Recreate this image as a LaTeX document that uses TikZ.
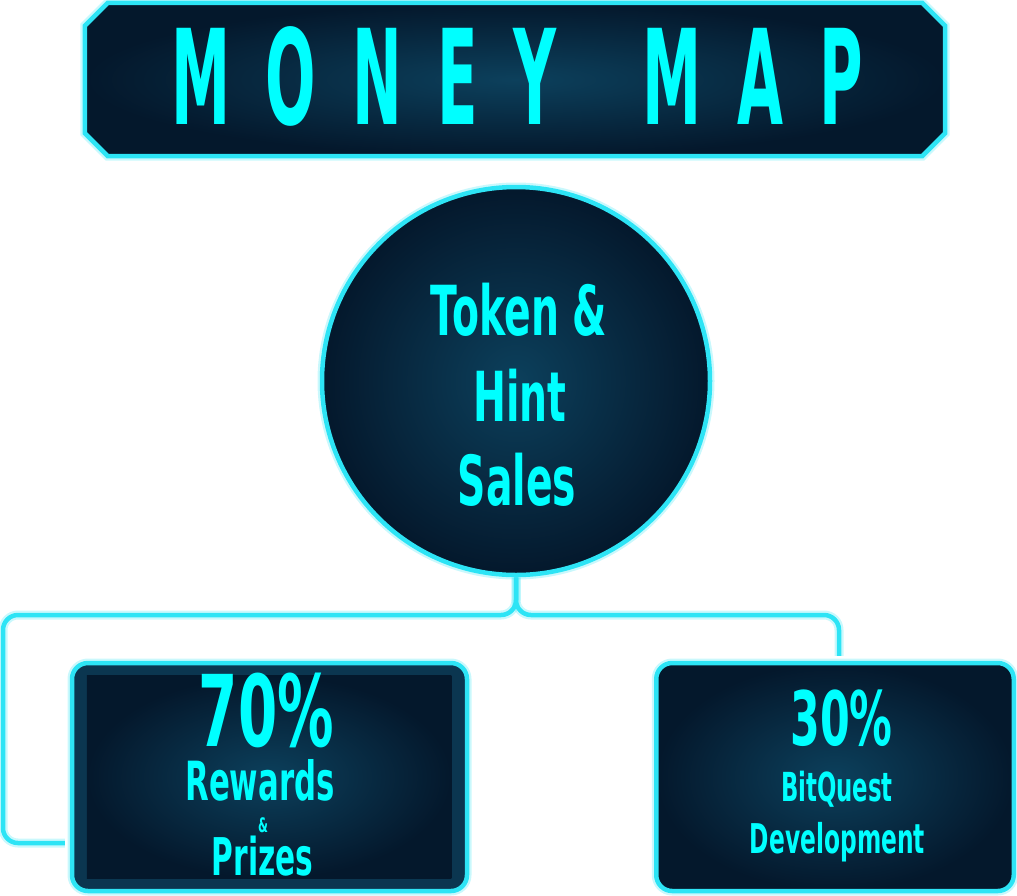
\documentclass[tikz,border=0pt]{standalone}
\usepackage{fontspec}
\newfontfamily\titlefont[FakeStretch=0.45,LetterSpace=27]{DejaVu Sans}
\newfontfamily\condfont[FakeStretch=0.57]{DejaVu Sans}
\definecolor{neon}{RGB}{0,255,255}
\definecolor{rim}{RGB}{45,228,245}
\definecolor{deep}{RGB}{4,24,44}
\definecolor{mid}{RGB}{12,64,92}
\definecolor{band}{RGB}{11,54,80}
\begin{document}
\begin{tikzpicture}[x=1pt,y=-1pt,
  glow/.style={preaction={draw=rim,line width=9pt,opacity=0.25}},
  rimline/.style={draw=rim,line width=4.5pt},
  wire/.style={draw=rim,line width=4.5pt,rounded corners=15pt,glow},
  txt/.style={text=neon,inner sep=0pt,anchor=base,text depth=0pt},
  big/.style={txt,font=\condfont\bfseries\fontsize{#1}{#1}\selectfont}]
\useasboundingbox (0,0) rectangle (1017,895);

% title frame
\node[minimum width=860pt,minimum height=153pt,inner sep=0pt] (title) at (515,79.5) {};
\shadedraw[rimline,glow,inner color=mid,outer color=deep]
  ([xshift=23pt]title.north west) -- ([xshift=-23pt]title.north east)
  -- ([yshift=-23pt]title.north east) -- ([yshift=23pt]title.south east)
  -- ([xshift=-23pt]title.south east) -- ([xshift=23pt]title.south west)
  -- ([yshift=23pt]title.south west) -- ([yshift=-23pt]title.north west) -- cycle;
\node[txt,font=\titlefont\bfseries\fontsize{132}{132}\selectfont] (ttl) at (517,124) {MONEY\hspace{30pt} MAP};

% hub circle
\node[circle,minimum size=388pt,inner sep=0pt,rimline,glow,inner color=mid,outer color=deep] (hub) at (516,381) {};
\node[big=69] (t1) at (519,335) {Token \&};
\node[big=69] (t2) at (520,421) {Hint};
\node[big=69] (t3) at (517,505) {Sales};

% boxes
\node[rounded corners=16pt,rimline,glow,fill=band,minimum width=395pt,minimum height=228pt,inner sep=0pt] (lbox) at (269.5,777) {};
\shade[inner color=mid,outer color=deep] ([shift={(17pt,-15pt)}]lbox.north west) rectangle ([shift={(-18pt,15pt)}]lbox.south east);
\node[rounded corners=16pt,rimline,glow,inner color=mid,outer color=deep,minimum width=357.5pt,minimum height=228pt,inner sep=0pt] (rbox) at (835,777) {};

\node[big=99] (p70) at (266.5,746) {70\%};
\node[big=54] (rw) at (260,800) {Rewards};
\node[big=20] (amp) at (263,832) {\&};
\node[big=52] (pz) at (262.5,875) {Prizes};
\node[big=75] (p30) at (841.5,745) {30\%};
\node[big=40] (bq) at (837,801) {BitQuest};
\node[big=41] (dv) at (837.5,853) {Development};

% connectors
\coordinate (fork) at (516,615);
\draw[wire,shorten >=5pt] (hub.south) -- (fork) -- (3,615) -- (3,843) -- ([yshift=-66pt]lbox.west);
\draw[wire,shorten >=5pt] (hub.south) -- (fork) -- (839,615) -- ([xshift=4pt]rbox.north);
\end{tikzpicture}
\end{document}
